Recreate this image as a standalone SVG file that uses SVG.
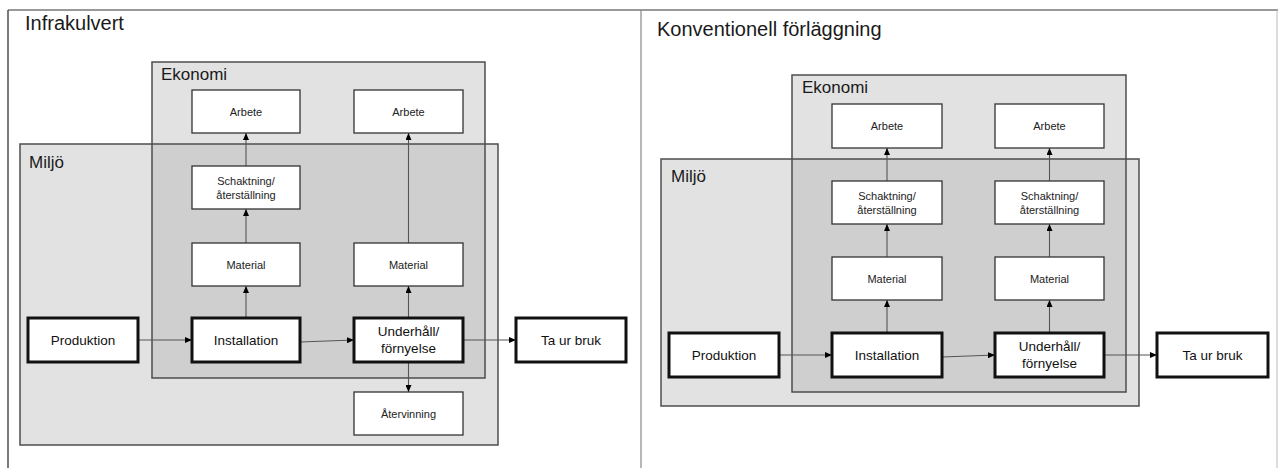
<svg xmlns="http://www.w3.org/2000/svg" width="1278" height="468" viewBox="0 0 1278 468">
<style>
  .title{font-family:"Liberation Sans",Arial,sans-serif;font-size:20px;fill:#1a1a1a}
  .region{font-family:"Liberation Sans",Arial,sans-serif;font-size:17px;fill:#1a1a1a}
  .reg{fill:#e2e2e2;stroke:none}
  .ovl{fill:#cfcfcf;stroke:none}
  .regline{fill:none;stroke:#4d4d4d;stroke-width:1.5}
  .box{fill:#ffffff;stroke:#333333;stroke-width:1.3}
  .tbox{fill:#ffffff;stroke:#111111;stroke-width:3}
  .sm{font-family:"Liberation Sans",Arial,sans-serif;font-size:11px;fill:#222;text-anchor:middle}
  .lg{font-family:"Liberation Sans",Arial,sans-serif;font-size:13.5px;fill:#111;text-anchor:middle}
  .conn line{stroke:#555555;stroke-width:1.1;marker-end:url(#ah)}
</style>
<defs>
  <marker id="ah" markerWidth="7" markerHeight="6" refX="7" refY="3" orient="auto" markerUnits="userSpaceOnUse">
    <path d="M0,0 L7,3 L0,6 z" fill="#000"/>
  </marker>
</defs>
<rect x="0" y="0" width="1278" height="468" fill="#ffffff"/>

<!-- frame -->
<g id="frame">
  <line x1="8" y1="10" x2="1278" y2="10" stroke="#777" stroke-width="1.3"/>
  <line x1="8" y1="10" x2="8" y2="468" stroke="#333" stroke-width="1.3"/>
  <line x1="641" y1="10" x2="641" y2="468" stroke="#888" stroke-width="1.2"/>
  <line x1="1277" y1="10" x2="1277" y2="468" stroke="#bbb" stroke-width="1"/>
</g>

<!-- ===== Left panel ===== -->
<g id="left-regions">
  <rect class="reg" x="152" y="62" width="333" height="316"/>
  <rect class="reg" x="20" y="144" width="478" height="301"/>
  <rect class="ovl" x="152" y="144" width="333" height="234"/>
  <rect class="regline" x="152" y="62" width="333" height="316"/>
  <rect class="regline" x="20" y="144" width="478" height="301"/>
</g>
<text class="title" x="25" y="30">Infrakulvert</text>
<text class="region" x="161" y="80">Ekonomi</text>
<text class="region" x="29" y="168">Miljö</text>

<g class="conn" id="left-connectors">
  <line x1="138" y1="340" x2="192" y2="340"/>
  <line x1="300" y1="342" x2="354" y2="340"/>
  <line x1="463" y1="340" x2="516" y2="340"/>
  <line x1="246" y1="318" x2="246" y2="286"/>
  <line x1="246" y1="243" x2="246" y2="209"/>
  <line x1="246" y1="166" x2="246" y2="133"/>
  <line x1="408.5" y1="318" x2="408.5" y2="286"/>
  <line x1="408.5" y1="243" x2="408.5" y2="133"/>
  <line x1="408.5" y1="362" x2="408.5" y2="392"/>
</g>

<g id="L-arbete1"><rect class="box" x="192" y="90" width="108" height="43"/><text class="sm" x="246" y="115.5">Arbete</text></g>
<g id="L-arbete2"><rect class="box" x="354" y="90" width="109" height="43"/><text class="sm" x="408.5" y="115.5">Arbete</text></g>
<g id="L-schakt"><rect class="box" x="192" y="166" width="108" height="43"/><text class="sm" x="246" y="185">Schaktning/</text><text class="sm" x="246" y="199">återställning</text></g>
<g id="L-material1"><rect class="box" x="192" y="243" width="108" height="43"/><text class="sm" x="246" y="268.5">Material</text></g>
<g id="L-material2"><rect class="box" x="354" y="243" width="109" height="43"/><text class="sm" x="408.5" y="268.5">Material</text></g>
<g id="L-produktion"><rect class="tbox" x="28" y="318" width="110" height="44"/><text class="lg" x="83" y="345">Produktion</text></g>
<g id="L-installation"><rect class="tbox" x="192" y="318" width="108" height="44"/><text class="lg" x="246" y="345">Installation</text></g>
<g id="L-underhall"><rect class="tbox" x="354" y="318" width="109" height="44"/><text class="lg" x="408.5" y="336">Underhåll/</text><text class="lg" x="408.5" y="353">förnyelse</text></g>
<g id="L-taurbruk"><rect class="tbox" x="516" y="318" width="110" height="44"/><text class="lg" x="571" y="345">Ta ur bruk</text></g>
<g id="L-atervinning"><rect class="box" x="354" y="392" width="109" height="43"/><text class="sm" x="408.5" y="417.5">Återvinning</text></g>

<!-- ===== Right panel ===== -->
<g id="right-regions">
  <rect class="reg" x="792" y="75" width="334" height="317"/>
  <rect class="reg" x="661" y="159" width="478" height="247"/>
  <rect class="ovl" x="792" y="159" width="334" height="233"/>
  <rect class="regline" x="792" y="75" width="334" height="317"/>
  <rect class="regline" x="661" y="159" width="478" height="247"/>
</g>
<text class="title" x="657" y="36">Konventionell förläggning</text>
<text class="region" x="802" y="93">Ekonomi</text>
<text class="region" x="671" y="182">Miljö</text>

<g class="conn" id="right-connectors">
  <line x1="779" y1="355" x2="832" y2="355"/>
  <line x1="942" y1="357" x2="995" y2="355"/>
  <line x1="1104" y1="355" x2="1157" y2="355"/>
  <line x1="887" y1="333" x2="887" y2="300"/>
  <line x1="887" y1="257" x2="887" y2="224"/>
  <line x1="887" y1="181" x2="887" y2="148"/>
  <line x1="1049.5" y1="333" x2="1049.5" y2="300"/>
  <line x1="1049.5" y1="257" x2="1049.5" y2="224"/>
  <line x1="1049.5" y1="181" x2="1049.5" y2="148"/>
</g>

<g id="R-arbete1"><rect class="box" x="832" y="104" width="110" height="44"/><text class="sm" x="887" y="130">Arbete</text></g>
<g id="R-arbete2"><rect class="box" x="995" y="104" width="109" height="44"/><text class="sm" x="1049.5" y="130">Arbete</text></g>
<g id="R-schakt1"><rect class="box" x="832" y="181" width="110" height="43"/><text class="sm" x="887" y="200">Schaktning/</text><text class="sm" x="887" y="214">återställning</text></g>
<g id="R-schakt2"><rect class="box" x="995" y="181" width="109" height="43"/><text class="sm" x="1049.5" y="200">Schaktning/</text><text class="sm" x="1049.5" y="214">återställning</text></g>
<g id="R-material1"><rect class="box" x="832" y="257" width="110" height="43"/><text class="sm" x="887" y="282.5">Material</text></g>
<g id="R-material2"><rect class="box" x="995" y="257" width="109" height="43"/><text class="sm" x="1049.5" y="282.5">Material</text></g>
<g id="R-produktion"><rect class="tbox" x="669" y="333" width="110" height="44"/><text class="lg" x="724" y="360">Produktion</text></g>
<g id="R-installation"><rect class="tbox" x="832" y="333" width="110" height="44"/><text class="lg" x="887" y="360">Installation</text></g>
<g id="R-underhall"><rect class="tbox" x="995" y="333" width="109" height="44"/><text class="lg" x="1049.5" y="351">Underhåll/</text><text class="lg" x="1049.5" y="368">förnyelse</text></g>
<g id="R-taurbruk"><rect class="tbox" x="1157" y="333" width="111" height="44"/><text class="lg" x="1212.5" y="360">Ta ur bruk</text></g>
</svg>
